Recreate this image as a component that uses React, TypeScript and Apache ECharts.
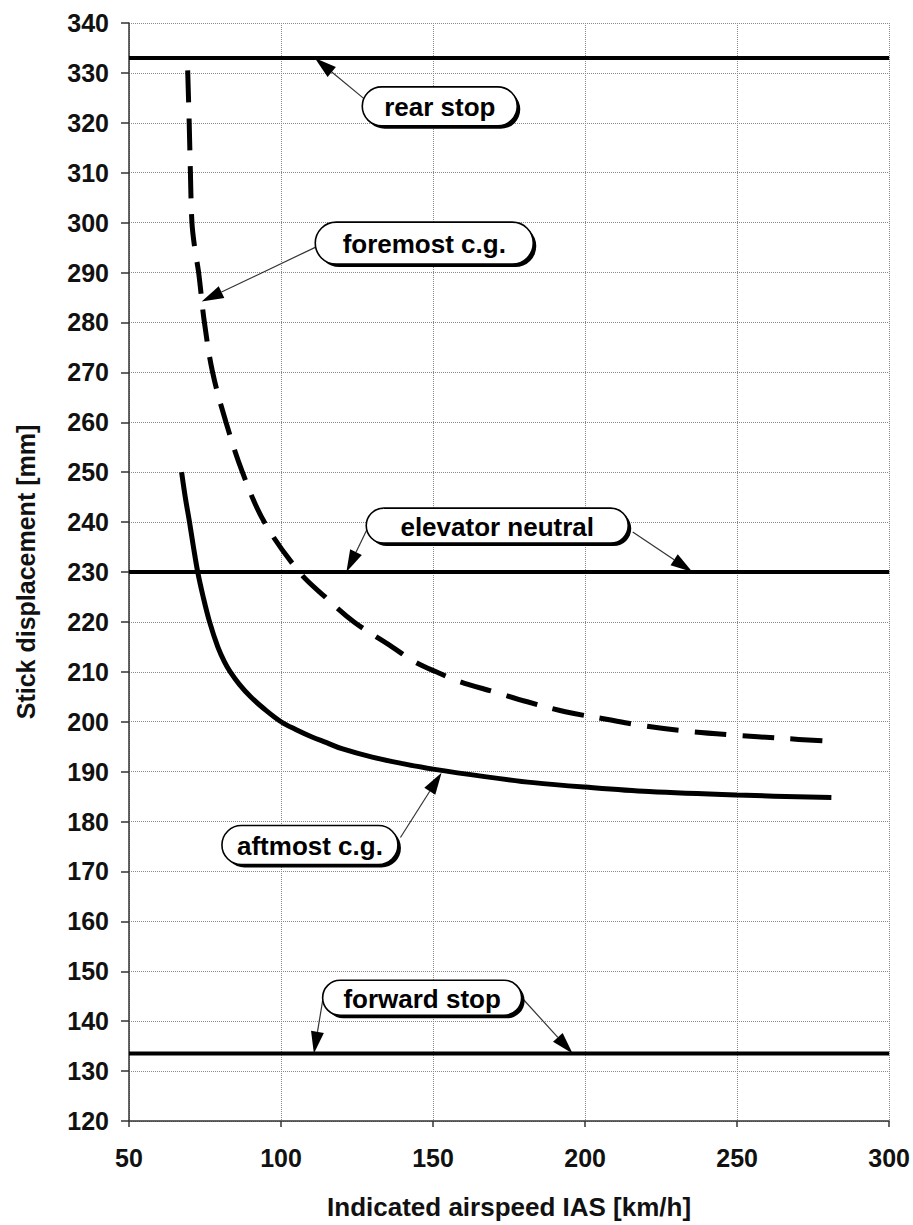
import React, { useEffect, useRef } from "react";
import * as echarts from "echarts";

// ---- data ----
const aftmostX = [67.3, 68.5, 69.9, 71.2, 72.6, 74.4, 76.5, 79.2, 81.4, 83.3, 86.3, 90, 94.6, 100, 105, 110, 115, 120, 130, 140, 150, 167, 183, 200, 221, 250, 281];
const aftmostY = [250, 245, 240, 235, 230, 225, 220, 215, 212, 210, 207.5, 205, 202.5, 200, 198.4, 197, 195.8, 194.6, 192.9, 191.6, 190.5, 189.0, 187.8, 186.9, 186.0, 185.3, 184.8];

const foremostX = [69.3, 69.8, 70.2, 70.7, 71.6, 72.9, 74.8, 77.5, 81.9, 87.3, 94.5, 106, 114.5, 124, 136.5, 144, 151, 159, 170, 181, 193.5, 207, 218, 232, 249.6, 264, 280];
const foremostY = [330.5, 320, 310, 300, 295, 290, 280, 270, 260, 250, 240, 230, 225, 220, 215, 212, 210, 208, 206, 204, 202, 200.5, 199.3, 198.2, 197.3, 196.7, 196.1];

const stopSpan = [50, 300];
const rearStop = 333;
const elevatorNeutral = 230;
const forwardStop = 133.5;

const xTickMin = 50;
const xTickMax = 300;
const xTickStep = 50;
const yTickMin = 120;
const yTickMax = 340;
const yTickStep = 10;

const xTitle = "Indicated airspeed IAS [km/h]";
const yTitle = "Stick displacement [mm]";

// callouts: label, anchor (data coords of box centre), arrow tips (data coords)
const calloutLabels = ["rear stop", "foremost c.g.", "elevator neutral", "aftmost c.g.", "forward stop"];
const calloutAnchors = [[152.7, 323], [147.6, 295.6], [171.6, 239], [110, 175], [146.9, 144.4]];
const calloutTips = [
  [[111.1, 333]],
  [[73.9, 284.2]],
  [[121.5, 230], [235.3, 230]],
  [[152.8, 189.8]],
  [[110.8, 133.5], [195.9, 133.5]],
];

// layout (pixels)
const calloutSizes = [[158, 42], [221, 45], [265, 38], [179, 42], [202, 38]];
const calloutArrowStarts = [
  [[-77, -9]],
  [[-110, 2.5]],
  [[-132, 3], [134, 5]],
  [[89, -9]],
  [[-100, -4.5], [100, 0.5]],
];

const FONT = "'Liberation Sans', Arial, Helvetica, sans-serif";

const zip = (xs: number[], ys: number[]) => xs.map((x, i) => [x, ys[i]]);

export default function App() {
  const ref = useRef<HTMLDivElement>(null);

  useEffect(() => {
    if (!ref.current) return;
    const chart = echarts.init(ref.current, null, { renderer: "svg" });

    const axisLineStyle = { color: "#333", width: 1.5 };
    const labelStyle = { fontSize: 25, fontWeight: "bold" as const, color: "#111", fontFamily: FONT };
    const splitLine = { show: true, lineStyle: { type: "dotted" as const, color: "#888", width: 1 } };

    const hLine = (y: number) => ({
      type: "line",
      data: stopSpan.map((x) => [x, y]),
      symbol: "none",
      lineStyle: { color: "#000", width: 4 },
      z: 3,
    });

    const option: any = {
      animation: false,
      backgroundColor: "#fff",
      grid: { left: 129, right: 21, top: 23, bottom: 98, containLabel: false },
      xAxis: {
        type: "value",
        min: xTickMin,
        max: xTickMax,
        interval: xTickStep,
        axisLine: { show: true, lineStyle: axisLineStyle },
        axisTick: { show: true, length: 6, lineStyle: axisLineStyle },
        axisLabel: { ...labelStyle, margin: 24 },
        splitLine,
        name: xTitle,
        nameLocation: "middle",
        nameGap: 73,
        nameTextStyle: { ...labelStyle, fontSize: 26 },
      },
      yAxis: {
        type: "value",
        min: yTickMin,
        max: yTickMax,
        interval: yTickStep,
        axisLine: { show: true, lineStyle: axisLineStyle },
        axisTick: { show: true, length: 8, lineStyle: axisLineStyle },
        axisLabel: { ...labelStyle, margin: 20 },
        splitLine,
        name: yTitle,
        nameLocation: "middle",
        nameGap: 91,
        nameTextStyle: { ...labelStyle },
      },
      series: [
        hLine(rearStop),
        hLine(elevatorNeutral),
        hLine(forwardStop),
        {
          type: "line",
          name: "aftmost c.g.",
          data: zip(aftmostX, aftmostY),
          symbol: "none",
          smooth: 0.35,
          lineStyle: { color: "#000", width: 5 },
          z: 4,
        },
        {
          type: "line",
          name: "foremost c.g.",
          data: zip(foremostX, foremostY),
          symbol: "none",
          smooth: 0.35,
          lineStyle: { color: "#000", width: 5, type: [32, 16] },
          z: 4,
        },
      ],
    };

    chart.setOption(option);

    const toPx = (p: number[]) => chart.convertToPixel({ gridIndex: 0 }, p) as number[];
    const graphics: any[] = [];
    const headLen = 22;
    const headHalf = 6.5;

    calloutLabels.forEach((label, i) => {
      const [cx, cy] = toPx(calloutAnchors[i]);
      const [w, h] = calloutSizes[i];
      calloutTips[i].forEach((tip, j) => {
        const off = calloutArrowStarts[i][j];
        const sx = cx + off[0];
        const sy = cy + off[1];
        const [tx, ty] = toPx(tip);
        const dx = tx - sx;
        const dy = ty - sy;
        const L = Math.hypot(dx, dy) || 1;
        const ux = dx / L;
        const uy = dy / L;
        const bx = tx - ux * headLen;
        const by = ty - uy * headLen;
        graphics.push({
          type: "line",
          shape: { x1: sx, y1: sy, x2: bx, y2: by },
          style: { stroke: "#333", lineWidth: 1.2 },
          z: 100,
        });
        graphics.push({
          type: "polygon",
          shape: {
            points: [
              [tx, ty],
              [bx - uy * headHalf, by + ux * headHalf],
              [bx + uy * headHalf, by - ux * headHalf],
            ],
          },
          style: { fill: "#000" },
          z: 100,
        });
      });
      const rw = w - 3;
      const rh = h - 3;
      const x0 = cx - w / 2;
      const y0 = cy - h / 2;
      graphics.push({
        type: "rect",
        shape: { x: x0 + 3, y: y0 + 3, width: rw, height: rh, r: rh / 2 },
        style: { fill: "#000" },
        z: 101,
      });
      graphics.push({
        type: "rect",
        shape: { x: x0, y: y0, width: rw, height: rh, r: rh / 2 },
        style: { fill: "#fff", stroke: "#000", lineWidth: 1.6 },
        z: 102,
      });
      graphics.push({
        type: "text",
        x: x0 + rw / 2,
        y: y0 + rh / 2 + 1,
        style: {
          text: label,
          fontSize: 26,
          fontWeight: "bold",
          fontFamily: FONT,
          fill: "#000",
          align: "center",
          verticalAlign: "middle",
        },
        z: 103,
      });
    });

    chart.setOption({ graphic: graphics });

    return () => chart.dispose();
  }, []);

  return (
    <div
      ref={ref}
      style={{ position: "fixed", left: 0, top: 0, width: 913, height: 1225, background: "#fff" }}
    />
  );
}
